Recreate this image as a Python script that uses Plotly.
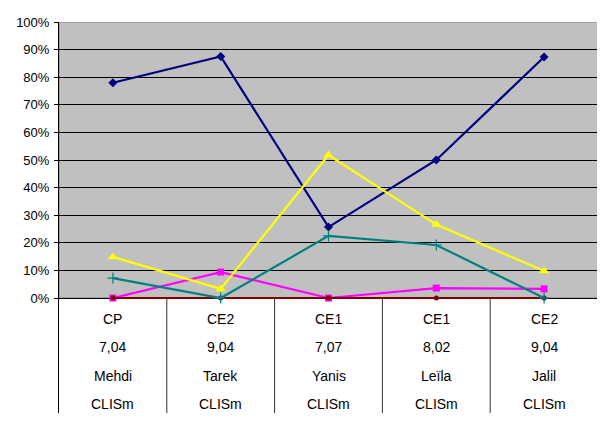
import plotly.graph_objects as go

# --- data ---
levels = ["CP", "CE2", "CE1", "CE1", "CE2"]
ages = ["7,04", "9,04", "7,07", "8,02", "9,04"]
names = ["Mehdi", "Tarek", "Yanis", "Leïla", "Jalil"]
classes = ["CLISm", "CLISm", "CLISm", "CLISm", "CLISm"]

series_navy = [0.78, 0.875, 0.257, 0.50, 0.873]
series_magenta = [0.0, 0.094, 0.0, 0.036, 0.033]
series_yellow = [0.149, 0.033, 0.518, 0.266, 0.098]
series_darkred = [0.0, 0.0, 0.0, 0.0, 0.0]
series_teal = [0.072, 0.0, 0.225, 0.192, 0.0]

x = list(range(len(names)))

# page body has an 8px margin: compensate
OFF = 8
W, H = 605 - OFF, 427 - OFF
L, R, T, B = 59 - OFF, 7, 22 - OFF, 14
plot_h = H - T - B
zero_px = 298 - OFF
unit = zero_px - T                    # pixels for 100 %
y_bottom = -(T + plot_h - zero_px) / unit

fig = go.Figure()

def add(vals, color, symbol, size, mline=0, lw=2.2):
    fig.add_trace(go.Scatter(
        x=x, y=vals, mode="lines+markers",
        line=dict(color=color, width=lw),
        marker=dict(symbol=symbol, size=size, color=color,
                    line=dict(color=color, width=mline)),
        cliponaxis=False, hoverinfo="skip", showlegend=False))

add(series_navy, "#000080", "diamond", 7)
add(series_magenta, "#FF00FF", "square", 7)
add(series_yellow, "#FFFF00", "triangle-up", 9)
add(series_darkred, "#800000", "circle", 5)
add(series_teal, "#008080", "cross-thin", 8, mline=1.2)

shapes = []
shapes.append(dict(type="rect", xref="x", yref="y", x0=-0.5, x1=len(x) - 0.5,
                   y0=0, y1=1, fillcolor="#C0C0C0",
                   line=dict(color="#808080", width=1), layer="below"))
for i in range(len(x)):
    shapes.append(dict(type="line", xref="x", yref="y", x0=i + 0.5, x1=i + 0.5,
                       y0=y_bottom, y1=0,
                       line=dict(color="#808080" if i == len(x) - 1 else "#303030", width=1),
                       layer="below"))

annotations = []
row_px = [319, 347, 376, 404]
rows = [levels, ages, names, classes]
for rp, labels in zip(row_px, rows):
    yy = (zero_px - (rp - OFF)) / unit
    for i, lab in enumerate(labels):
        annotations.append(dict(x=i, y=yy, xref="x", yref="y", text=lab,
                                showarrow=False, xanchor="center", yanchor="middle",
                                font=dict(family="Liberation Sans, Arial", size=14, color="black")))

fig.update_layout(
    width=W, height=H,
    margin=dict(l=L, r=R, t=T, b=B, pad=0),
    paper_bgcolor="white", plot_bgcolor="white",
    shapes=shapes, annotations=annotations,
    font=dict(family="Liberation Sans, Arial", size=12, color="black"),
    xaxis=dict(range=[-0.5, len(x) - 0.5], showgrid=False, zeroline=False,
               showticklabels=False, ticks="", showline=False, fixedrange=True),
    yaxis=dict(range=[y_bottom, 1.0], tickvals=[i / 10 for i in range(11)],
               tickformat=".0%", showgrid=True, gridcolor="#000000", gridwidth=1,
               zeroline=True, zerolinecolor="#000000", zerolinewidth=1,
               showline=True, linecolor="#000000", linewidth=1,
               ticks="outside", ticklen=4, tickcolor="#000000",
               ticklabelstandoff=2,
               tickfont=dict(family="Liberation Sans, Arial", size=13, color="black"),
               fixedrange=True),
)

fig.write_html("out.html")
